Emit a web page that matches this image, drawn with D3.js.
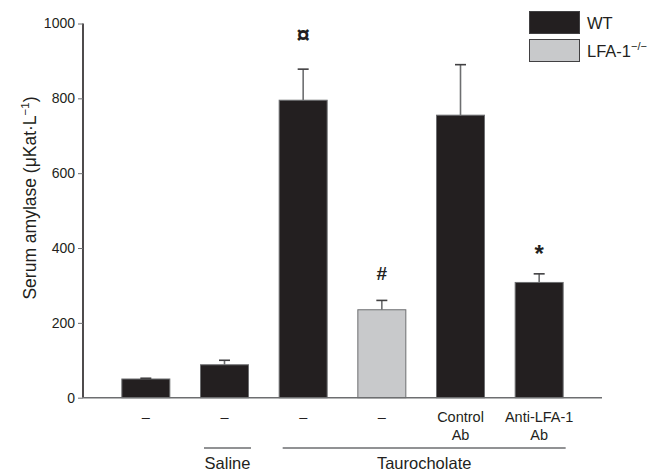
<!DOCTYPE html>
<html><head><meta charset="utf-8">
<script src="https://cdn.jsdelivr.net/npm/d3@7"></script>
<style>body{margin:0;background:#fff}svg{display:block;font-family:"Liberation Sans",Arial,sans-serif}</style>
</head><body><svg id="c" width="654" height="474"></svg>
<script>
const categories = ["g1","g2","g3","g4","g5","g6"];
const line1 = ["–","–","–","–","Control","Anti-LFA-1"];
const line2 = ["","","","","Ab","Ab"];
const means = [50, 88, 795, 235, 755, 308];
const errors = [2, 12, 83, 25, 135, 23];
const genotype = ["WT","WT","WT","LFA","WT","WT"];
const marks = ["","","¤","#","","*"];
const yTicks = [0,200,400,600,800,1000];
const groups = [{label:"Saline", from:1, to:1}, {label:"Taurocholate", from:2, to:5}];
const legendItems = [{key:"WT", text:"WT", sup:""},{key:"LFA", text:"LFA-1", sup:"−/−"}];

const ink = "#231f20";
const fills = {WT:"#231f20", LFA:"#c8c9cb"};
const svg = d3.select("#c");
const y = d3.scaleLinear().domain([0,1000]).range([397.7, 23.5]);
const x = d3.scaleBand().domain(categories).range([106.5, 578.5]).paddingInner(0.39).paddingOuter(0.195);
const x0 = 83, x1 = 602;
const cx = d => x(d) + x.bandwidth()/2;

// bars
svg.selectAll("rect.bar").data(categories).join("rect")
  .attr("x", d => x(d)).attr("width", x.bandwidth())
  .attr("y", (d,i) => y(means[i])).attr("height", (d,i) => y(0) - y(means[i]))
  .attr("fill", (d,i) => fills[genotype[i]])
  .attr("stroke", "#6d6e70").attr("stroke-width", 1);

// error bars
const eb = svg.selectAll("g.eb").data(categories).join("g");
eb.append("line").attr("x1", cx).attr("x2", cx)
  .attr("y1", (d,i) => y(means[i])).attr("y2", (d,i) => y(means[i]+errors[i]))
  .attr("stroke", "#6d6e70").attr("stroke-width", 1.6);
eb.append("line").attr("x1", d => cx(d)-5.5).attr("x2", d => cx(d)+5.5)
  .attr("y1", (d,i) => y(means[i]+errors[i])).attr("y2", (d,i) => y(means[i]+errors[i]))
  .attr("stroke", "#414042").attr("stroke-width", 1.6);

// significance marks
const markY = {"¤":43, "#":280, "*":262};
const markSize = {"¤":24, "#":19, "*":24};
svg.selectAll("text.mk").data(categories).join("text")
  .attr("x", cx)
  .attr("y", (d,i) => markY[marks[i]] || 0)
  .attr("text-anchor","middle").attr("font-size", (d,i)=> markSize[marks[i]] || 12)
  .attr("font-weight","bold").attr("fill", ink)
  .text((d,i) => marks[i]);

// y axis
const ya = svg.append("g").attr("transform", `translate(${x0},0)`)
  .call(d3.axisLeft(y).tickValues(yTicks).tickSize(5).tickPadding(3).tickFormat(d3.format("d")));
ya.select(".domain").attr("stroke", ink).attr("stroke-width", 1.6).attr("d", `M0,${y(1000)}V${y(0)}`);
ya.selectAll(".tick line").attr("stroke", "#6d6e70");
ya.selectAll(".tick text").attr("font-size", 14).attr("fill", ink).attr("font-family", "Liberation Sans, Arial, sans-serif");

// x axis baseline
svg.append("line").attr("x1", x0).attr("x2", x1).attr("y1", y(0)).attr("y2", y(0))
  .attr("stroke", "#6d6e70").attr("stroke-width", 1.4);

// x labels
svg.selectAll("text.l1").data(categories).join("text")
  .attr("x", cx).attr("y", 421.5)
  .attr("text-anchor","middle").attr("font-size", 14.5).attr("fill", ink)
  .text((d,i) => line1[i]);
svg.selectAll("text.l2").data(categories).join("text")
  .attr("x", cx).attr("y", 440)
  .attr("text-anchor","middle").attr("font-size", 14.5).attr("fill", ink)
  .text((d,i) => line2[i]);

// group brackets
groups.forEach(g => {
  const ax = x(categories[g.from]) + 3.5, bx = x(categories[g.to]) + x.bandwidth() + 2.5;
  svg.append("line").attr("x1", ax).attr("x2", bx).attr("y1", 448).attr("y2", 448)
    .attr("stroke", "#6d6e70").attr("stroke-width", 1.3);
  svg.append("text").attr("x", (ax+bx)/2).attr("y", 469).attr("text-anchor","middle")
    .attr("font-size", 16.5).attr("fill", ink).text(g.label);
});

// y label
const yl = svg.append("text").attr("transform", "translate(36,198) rotate(-90)")
  .attr("text-anchor","middle").attr("font-size", 17.5).attr("fill", ink);
yl.append("tspan").text("Serum amylase (μKat·L");
yl.append("tspan").attr("font-size", 11.5).attr("dy", -7).text("−1");
yl.append("tspan").attr("dy", 7).text(")");

// legend
const lg = svg.append("g");
legendItems.forEach((it, i) => {
  lg.append("rect").attr("x", 529.5).attr("y", 11.5 + i*28).attr("width", 50).attr("height", 22)
    .attr("fill", fills[it.key]).attr("stroke", "#414042").attr("stroke-width", 1);
  const t = lg.append("text").attr("x", 587).attr("y", 29 + i*28).attr("font-size", 16.5).attr("fill", ink);
  t.append("tspan").text(it.text);
  if (it.sup) t.append("tspan").attr("font-size", 11).attr("dy", -7).text(it.sup);
});
</script></body></html>
